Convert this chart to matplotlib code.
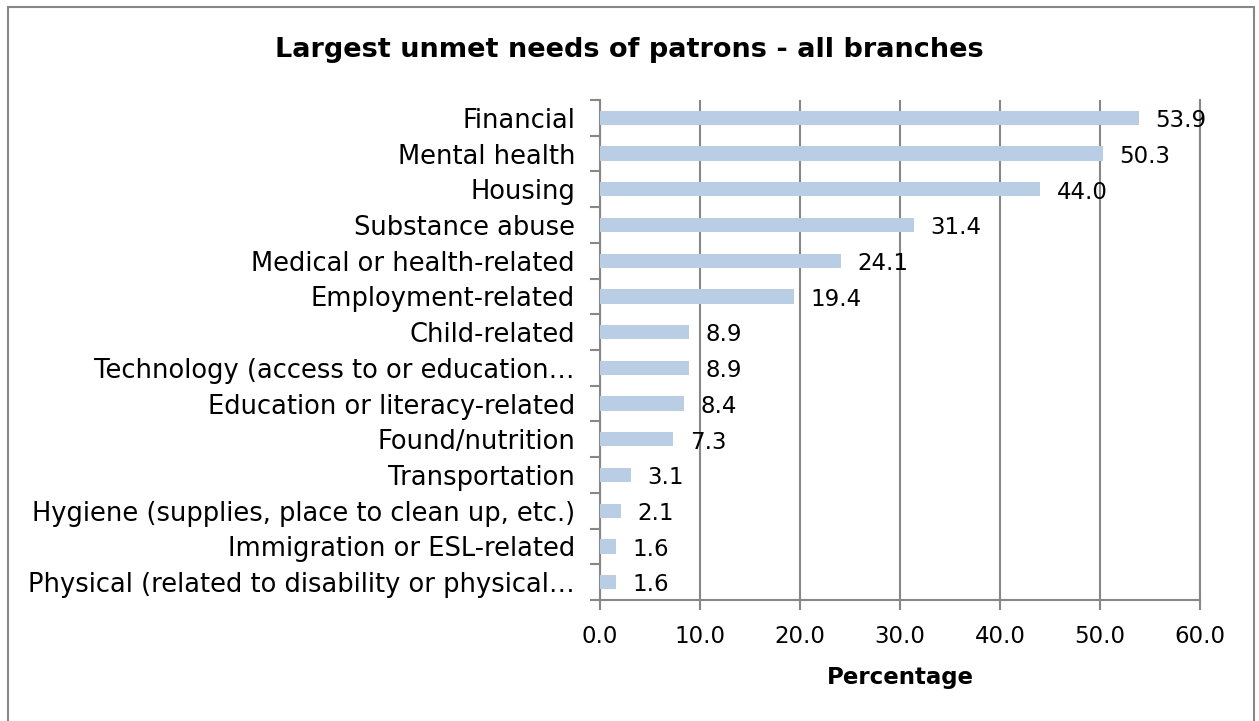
import matplotlib
matplotlib.use("Agg")
import matplotlib.pyplot as plt
from matplotlib.patches import Rectangle

plt.rcParams['font.family'] = ['DejaVu Sans']

categories = [
    "Financial",
    "Mental health",
    "Housing",
    "Substance abuse",
    "Medical or health-related",
    "Employment-related",
    "Child-related",
    "Technology (access to or education…",
    "Education or literacy-related",
    "Found/nutrition",
    "Transportation",
    "Hygiene (supplies, place to clean up, etc.)",
    "Immigration or ESL-related",
    "Physical (related to disability or physical…",
]
values = [53.9, 50.3, 44.0, 31.4, 24.1, 19.4, 8.9, 8.9, 8.4, 7.3, 3.1, 2.1, 1.6, 1.6]
xticks = [0, 10, 20, 30, 40, 50, 60]

grey = "#878787"
fig = plt.figure(figsize=(12.59, 7.21), dpi=100)
ax = fig.add_axes([600 / 1259, 121 / 721, 600 / 1259, 500 / 721])

pos = list(range(len(categories)))
ax.barh(pos, values, height=0.4, color="#B9CDE5", zorder=3)
ax.set_ylim(len(categories) - 0.5, -0.5)
ax.set_xlim(0, 60)

for p, v in zip(pos, values):
    ax.annotate(f"{v:.1f}", (v, p), xytext=(12, -2), textcoords="offset points",
                ha="left", va="center", fontsize=16.5, color="black", zorder=4)

ax.set_yticks(pos)
ax.set_yticklabels(categories, fontsize=18.5)
ax.set_yticks([p + 0.5 for p in [-1] + pos], minor=True)
ax.tick_params(axis="y", which="major", length=0, pad=18)
ax.tick_params(axis="y", which="minor", length=7, color=grey, width=1.5)

ax.set_xticks(xticks)
ax.set_xticklabels([f"{t:.1f}" for t in xticks], fontsize=16.5)
ax.tick_params(axis="x", length=7, color=grey, width=1.5, pad=11)
ax.grid(axis="x", color=grey, linewidth=1.5, zorder=0)

ax.spines["top"].set_visible(False)
for s in ["left", "bottom", "right"]:
    ax.spines[s].set_color(grey)
    ax.spines[s].set_linewidth(1.5)

ax.set_xlabel("Percentage", fontsize=16.5, fontweight="bold", labelpad=13)
fig.text(0.5, 1 - 50 / 721, "Largest unmet needs of patrons - all branches",
         ha="center", va="center", fontsize=19.5, fontweight="bold")

fig.patches.append(Rectangle((8 / 1259, -0.05), 1246 / 1259, 1.05 - 7 / 721,
                             transform=fig.transFigure, fill=False,
                             edgecolor=grey, linewidth=1.5))

fig.savefig("out.png", dpi=100)
